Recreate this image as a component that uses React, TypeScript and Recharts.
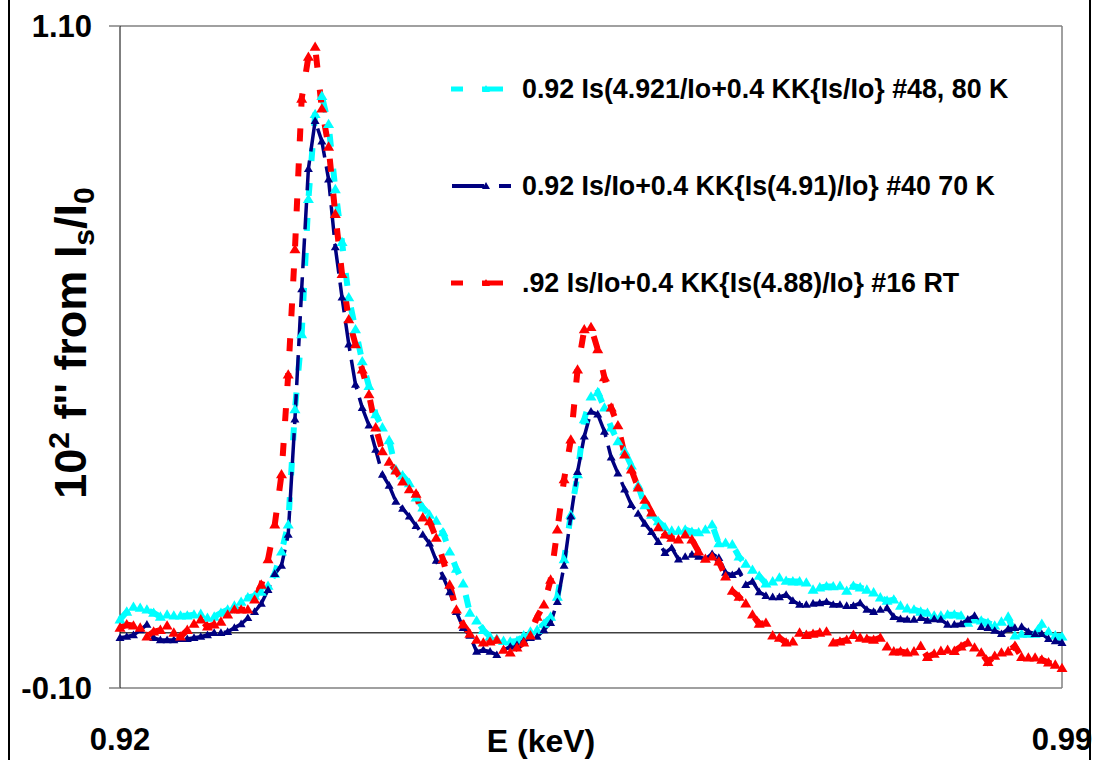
import { LineChart, Line, XAxis, YAxis, ReferenceLine, Legend } from 'recharts';

// photon energy, keV
const ENERGY = [
  0.92, 0.9205, 0.921, 0.9215, 0.922, 0.9225, 0.923, 0.9235, 0.924, 0.9245,
  0.925, 0.9255, 0.926, 0.9265, 0.927, 0.9275, 0.928, 0.9285, 0.929, 0.9295,
  0.93, 0.9305, 0.931, 0.9315, 0.932, 0.9325, 0.933, 0.9335, 0.934, 0.9345,
  0.935, 0.9355, 0.936, 0.9365, 0.937, 0.9375, 0.938, 0.9385, 0.939, 0.9395,
  0.94, 0.9405, 0.941, 0.9415, 0.942, 0.9425, 0.943, 0.9435, 0.944, 0.9445,
  0.945, 0.9455, 0.946, 0.9465, 0.947, 0.9475, 0.948, 0.9485, 0.949, 0.9495,
  0.95, 0.9505, 0.951, 0.9515, 0.952, 0.9525, 0.953, 0.9535, 0.954, 0.9545,
  0.955, 0.9555, 0.956, 0.9565, 0.957, 0.9575, 0.958, 0.9585, 0.959, 0.9595,
  0.96, 0.9605, 0.961, 0.9615, 0.962, 0.9625, 0.963, 0.9635, 0.964, 0.9645,
  0.965, 0.9655, 0.966, 0.9665, 0.967, 0.9675, 0.968, 0.9685, 0.969, 0.9695,
  0.97, 0.9705, 0.971, 0.9715, 0.972, 0.9725, 0.973, 0.9735, 0.974, 0.9745,
  0.975, 0.9755, 0.976, 0.9765, 0.977, 0.9775, 0.978, 0.9785, 0.979, 0.9795,
  0.98, 0.9805, 0.981, 0.9815, 0.982, 0.9825, 0.983, 0.9835, 0.984, 0.9845,
  0.985, 0.9855, 0.986, 0.9865, 0.987, 0.9875, 0.988, 0.9885, 0.989, 0.9895,
  0.99,
];

// #48, 80 K
const SCAN_80K = [
  0.024, 0.038, 0.047, 0.045, 0.042, 0.036, 0.029, 0.033, 0.031, 0.031,
  0.031, 0.033, 0.034, 0.027, 0.029, 0.036, 0.042, 0.049, 0.056, 0.064,
  0.067, 0.074, 0.085, 0.107, 0.147, 0.196, 0.405, 0.541, 0.786, 0.940,
  0.973, 0.922, 0.804, 0.708, 0.608, 0.550, 0.492, 0.447, 0.396, 0.372,
  0.349, 0.296, 0.285, 0.271, 0.245, 0.227, 0.214, 0.203, 0.182, 0.147,
  0.116, 0.089, 0.036, 0.022, 0.005, -0.007, -0.011, -0.015, -0.016, -0.015,
  -0.005, 0.002, 0.005, 0.016, 0.029, 0.065, 0.133, 0.214, 0.287, 0.387,
  0.428, 0.436, 0.408, 0.372, 0.347, 0.329, 0.303, 0.267, 0.231, 0.214,
  0.202, 0.191, 0.185, 0.185, 0.187, 0.183, 0.182, 0.187, 0.196, 0.162,
  0.163, 0.160, 0.138, 0.125, 0.114, 0.103, 0.089, 0.093, 0.100, 0.094,
  0.093, 0.093, 0.091, 0.078, 0.082, 0.084, 0.084, 0.085, 0.076, 0.085,
  0.082, 0.078, 0.073, 0.064, 0.058, 0.060, 0.049, 0.044, 0.042, 0.038,
  0.036, 0.031, 0.031, 0.033, 0.033, 0.031, 0.018, 0.024, 0.022, 0.018,
  0.013, 0.020, 0.029, -0.005, -0.002, -0.002, -0.002, 0.016, 0.002, -0.005,
  -0.007,
];

// #40, 70 K
const SCAN_70K = [
  -0.009, -0.007, -0.004, 0.005, 0.015, -0.009, -0.013, -0.013, -0.013, -0.011,
  -0.011, -0.009, -0.007, -0.004, 0.0, 0.0, 0.002, 0.009, 0.016, 0.027,
  0.038, 0.053, 0.078, 0.107, 0.122, 0.178, 0.387, 0.623, 0.841, 0.928,
  0.891, 0.822, 0.699, 0.608, 0.523, 0.450, 0.408, 0.376, 0.332, 0.287,
  0.267, 0.238, 0.225, 0.211, 0.194, 0.178, 0.162, 0.131, 0.102, 0.074,
  0.038, 0.009, -0.005, -0.034, -0.031, -0.034, -0.040, -0.031, -0.025, -0.022,
  -0.015, -0.009, -0.007, 0.005, 0.018, 0.056, 0.122, 0.211, 0.292, 0.356,
  0.401, 0.396, 0.365, 0.318, 0.289, 0.260, 0.232, 0.216, 0.198, 0.183,
  0.165, 0.145, 0.154, 0.133, 0.138, 0.142, 0.138, 0.134, 0.143, 0.136,
  0.109, 0.105, 0.111, 0.087, 0.093, 0.074, 0.067, 0.065, 0.065, 0.069,
  0.058, 0.051, 0.051, 0.053, 0.054, 0.056, 0.051, 0.051, 0.049, 0.049,
  0.054, 0.042, 0.038, 0.042, 0.045, 0.029, 0.025, 0.024, 0.024, 0.027,
  0.022, 0.025, 0.024, 0.015, 0.015, 0.016, 0.024, 0.031, 0.011, 0.009,
  0.004, -0.002, 0.007, 0.009, 0.011, 0.002, -0.002, -0.002, -0.011, -0.015,
  -0.018,
];

// #16, room temperature
const SCAN_RT = [
  0.009, 0.015, 0.013, 0.009, -0.007, 0.002, 0.005, 0.013, 0.0, -0.007,
  0.005, 0.016, 0.024, 0.011, 0.015, 0.020, 0.033, 0.042, 0.042, 0.042,
  0.060, 0.087, 0.133, 0.196, 0.287, 0.468, 0.695, 0.968, 1.044, 1.062,
  0.950, 0.881, 0.759, 0.650, 0.568, 0.523, 0.477, 0.432, 0.372, 0.329,
  0.310, 0.294, 0.274, 0.260, 0.252, 0.209, 0.202, 0.172, 0.133, 0.087,
  0.042, 0.015, -0.002, -0.013, -0.018, -0.016, -0.013, -0.031, -0.036, -0.027,
  -0.018, -0.005, 0.029, 0.051, 0.096, 0.187, 0.278, 0.350, 0.477, 0.550,
  0.554, 0.514, 0.463, 0.408, 0.376, 0.323, 0.296, 0.263, 0.241, 0.218,
  0.191, 0.178, 0.172, 0.169, 0.178, 0.169, 0.147, 0.134, 0.138, 0.129,
  0.102, 0.076, 0.065, 0.053, 0.033, 0.016, 0.018, -0.005, -0.009, -0.018,
  -0.016, 0.0, -0.004, -0.002, 0.0, 0.002, -0.018, -0.016, -0.013, -0.004,
  -0.009, -0.011, -0.013, -0.009, -0.025, -0.034, -0.034, -0.036, -0.034, -0.024,
  -0.044, -0.038, -0.033, -0.031, -0.033, -0.025, -0.018, -0.027, -0.036, -0.053,
  -0.042, -0.036, -0.034, -0.024, -0.044, -0.045, -0.045, -0.049, -0.054, -0.058,
  -0.064,
];

const X_TICKS = [0.92, 0.99];
const Y_TICKS = [-0.1, 1.1];

const SERIES = [
  { key: 'k80', name: '0.92 Is(4.921/Io+0.4 KK{Is/Io} #48, 80 K', color: '#00FFFF', width: 6, dash: '13 22', marker: 5.5 },
  { key: 'k70', name: '0.92 Is/Io+0.4 KK{Is(4.91)/Io} #40 70 K', color: '#000080', width: 3.5, dash: '30 9', marker: 4.5 },
  { key: 'rt', name: '.92 Is/Io+0.4 KK{Is(4.88)/Io} #16 RT', color: '#FF0000', width: 6, dash: '13 22', marker: 5.5 },
];

const data = ENERGY.map((e, i) => ({ e, k80: SCAN_80K[i], k70: SCAN_70K[i], rt: SCAN_RT[i] }));

const FONT = "'Liberation Sans', Arial, Helvetica, sans-serif";

const triangle = (color: string, s: number) => (props: any) => {
  const { cx, cy, index } = props;
  if (cx == null || cy == null) return <g key={`n-${index}`} />;
  return (
    <path
      key={`${color}-${index}`}
      d={`M${cx},${cy - s} L${cx + s},${cy + s * 0.7} L${cx - s},${cy + s * 0.7} Z`}
      fill={color}
      stroke="none"
    />
  );
};

const YTitle = () => (
  <text
    x={86}
    y={343}
    transform="rotate(-90, 86, 343)"
    textAnchor="middle"
    fontFamily={FONT}
    fontWeight="bold"
    fontSize={45}
    fill="#000"
  >
    10
    <tspan fontSize={30} dy={-17}>2</tspan>
    <tspan dy={17}> f'' from I</tspan>
    <tspan fontSize={30} dy={8}>s</tspan>
    <tspan dy={-8}>/I</tspan>
    <tspan fontSize={30} dy={8}>0</tspan>
  </text>
);

const XTitle = () => (
  <text x={541} y={752} textAnchor="middle" fontFamily={FONT} fontWeight="bold" fontSize={32} fill="#000">
    E (keV)
  </text>
);

const LegendBox = () => {
  const rows = [29, 126, 223];
  return (
    <svg width={640} height={250} style={{ overflow: 'visible' }}>
      {SERIES.map((s, i) => {
        const y = rows[i];
        const tri = `M46,${y - 4} L50,${y + 3} L42,${y + 3} Z`;
        return (
          <g key={s.key}>
            {s.key === 'k70' ? (
              <>
                <line x1={12} x2={44} y1={y} y2={y} stroke={s.color} strokeWidth={4} />
                <line x1={59} x2={71} y1={y} y2={y} stroke={s.color} strokeWidth={4} />
              </>
            ) : (
              <>
                <line x1={11} x2={23} y1={y} y2={y} stroke={s.color} strokeWidth={5} />
                <line x1={42} x2={63} y1={y} y2={y} stroke={s.color} strokeWidth={5} />
              </>
            )}
            <path d={tri} fill={s.color} />
            <text x={82} y={y + 9} fontFamily={FONT} fontWeight="bold" fontSize={26.8} fill="#000">
              {s.name}
            </text>
          </g>
        );
      })}
    </svg>
  );
};

const XTick = (props: any) => {
  const { x, y, payload } = props;
  return (
    <text x={x} y={y} dy={22} textAnchor="middle" fontFamily={FONT} fontWeight="bold" fontSize={31} fill="#000">
      {Number(payload.value).toFixed(2)}
    </text>
  );
};

export default function App() {
  return (
    <div style={{ position: 'absolute', left: 0, top: 0, width: 1093, height: 760, background: '#fff', overflow: 'hidden' }}>
      <LineChart width={1093} height={760} data={data} margin={{ top: 26, right: 31, bottom: 0, left: 0 }}>
        <XAxis
          dataKey="e"
          type="number"
          domain={[0.92, 0.99]}
          ticks={X_TICKS}
          tick={<XTick />}
          tickLine={false}
          tickMargin={34}
          height={72}
          axisLine={{ stroke: '#808080', strokeWidth: 1.5 }}
          label={{ content: () => <XTitle /> }}
        />
        <YAxis
          type="number"
          domain={[-0.1, 1.1]}
          ticks={Y_TICKS}
          tickFormatter={(v: number) => v.toFixed(2)}
          tick={{ fontFamily: FONT, fontWeight: 'bold', fontSize: 31, fill: '#000' }}
          tickSize={11}
          tickMargin={17}
          tickLine={{ stroke: '#808080', strokeWidth: 1.5 }}
          axisLine={{ stroke: '#000', strokeWidth: 1 }}
          width={120}
          label={{ content: () => <YTitle /> }}
        />
        <ReferenceLine y={1.1} stroke="#808080" strokeWidth={1.5} />
        <ReferenceLine x={0.99} stroke="#808080" strokeWidth={1.5} />
        <ReferenceLine y={0} stroke="#404040" strokeWidth={1.5} />
        {SERIES.map((s) => (
          <Line
            key={s.key}
            dataKey={s.key}
            name={s.name}
            type="linear"
            stroke={s.color}
            strokeWidth={s.width}
            strokeDasharray={s.dash}
            dot={triangle(s.color, s.marker)}
            activeDot={false}
            isAnimationActive={false}
          />
        ))}
        <Legend
          layout="horizontal"
          verticalAlign="middle"
          align="center"
          content={() => <LegendBox />}
          wrapperStyle={{ left: 440, top: 60, width: 640, height: 250 }}
        />
      </LineChart>
      <div style={{ position: 'absolute', left: 8, top: 0, width: 1.5, height: 760, background: '#000' }} />
      <div style={{ position: 'absolute', left: 1089, top: 0, width: 1.5, height: 760, background: '#000' }} />
    </div>
  );
}
